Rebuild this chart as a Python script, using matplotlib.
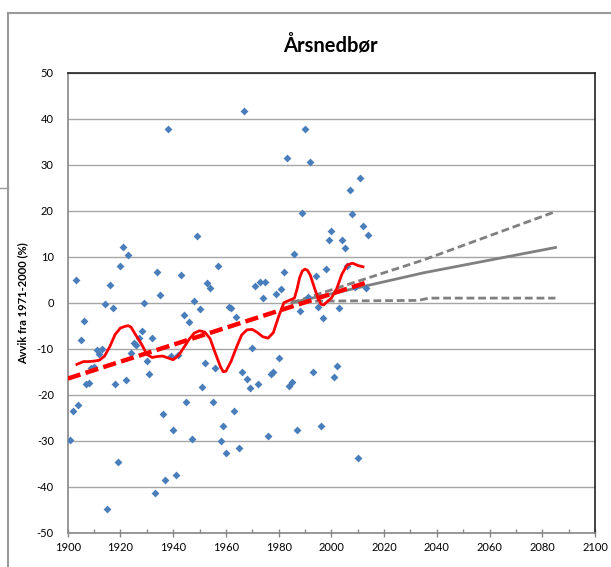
import matplotlib
matplotlib.use('Agg')
import matplotlib.pyplot as plt
from matplotlib.lines import Line2D
import numpy as np

plt.rcParams['font.family'] = ['Lato', 'DejaVu Sans']
plt.rcParams['axes.unicode_minus'] = False

# annual precipitation anomaly (%), 1901-2014
years = list(range(1901, 2015))
anomaly = [
    -29.8, -23.5, 4.9, -22.3, -8.1, -4.0, -17.7, -17.4, -14.1, -13.9,   # 1901-1910
    -10.3, -11.2, -10.1, -0.3, -44.8, 3.8, -1.2, -17.7, -34.6, 8.0,     # 1911-1920
    12.2, -16.8, 10.4, -10.9, -8.8, -9.2, -7.7, -6.1, 0.0, -12.6,       # 1921-1930
    -15.6, -7.6, -41.3, 6.6, 1.6, -24.3, -38.5, 37.8, -11.5, -27.7,     # 1931-1940
    -37.4, -11.3, 6.0, -2.6, -21.5, -4.3, -29.6, 0.4, 14.4, -1.4,       # 1941-1950
    -18.4, -13.2, 4.3, 3.3, -21.5, -14.3, 8.0, -30.1, -26.8, -32.6,     # 1951-1960
    -0.9, -1.2, -23.5, -3.1, -31.5, -15.1, 41.7, -16.5, -18.5, -9.8,    # 1961-1970
    3.6, -17.6, 4.4, 1.0, 4.4, -29.0, -15.6, -15.1, 1.9, -12.1,         # 1971-1980
    3.0, 6.6, 31.4, -18.1, -17.3, 10.5, -27.6, -1.7, 19.6, 37.8,        # 1981-1990
    1.3, 30.5, -15.1, 5.8, -0.9, -26.8, -3.4, 7.4, 13.6, 15.5,          # 1991-2000
    -16.2, -13.7, -1.2, 13.6, 12.0, 8.0, 24.4, 19.3, 3.5, -33.8,        # 2001-2010
    27.2, 16.7, 3.2, 14.7,                                              # 2011-2014
]

# smoothed curve
smooth_years = [1903.5, 1906, 1908, 1910, 1912, 1914, 1916, 1918, 1920, 1922,
                1923, 1924, 1926, 1928, 1930, 1932, 1934, 1936, 1938, 1940,
                1942, 1944, 1946, 1948, 1950, 1952, 1954, 1956, 1958, 1959,
                1960, 1962, 1964, 1966, 1968, 1970, 1972, 1974, 1976, 1978,
                1980, 1982, 1984, 1986, 1987, 1988, 1989, 1990, 1991, 1992,
                1994, 1996, 1997, 1998, 2000, 2002, 2004, 2006, 2008, 2010,
                2012]
smooth_vals = [-13.4, -12.8, -12.8, -12.7, -12.5, -11.6, -9.5, -6.9, -5.5, -5.1,
               -5.0, -5.3, -7.2, -9.0, -11.2, -11.9, -11.7, -11.6, -12.0, -12.4,
               -11.5, -9.8, -8.0, -6.6, -6.1, -6.4, -7.8, -11.0, -14.0, -15.0,
               -14.9, -12.7, -9.7, -7.0, -5.9, -5.8, -6.5, -7.4, -7.7, -6.5,
               -3.0, 0.0, 0.5, 1.0, 3.0, 5.5, 6.9, 7.3, 7.0, 6.0,
               2.5, -0.3, -0.5, 0.0, 1.0, 3.0, 6.2, 8.2, 8.6, 8.1,
               7.8]

# linear trend
trend_years = [1900, 2014]
trend_vals = [-16.5, 4.5]

# projections
proj_years = [1985, 2035, 2085]
proj_mid = [0.0, 6.5, 12.0]
proj_high = [0.0, 9.3, 19.8]
proj_low_years = [1985, 2033, 2037, 2085]
proj_low = [0.3, 0.5, 1.0, 1.0]

W, H = 611, 567
fig = plt.figure(figsize=(W / 100, H / 100), dpi=100)

# outer chart frame (partly outside the image)
frame = '#9a9a9a'
fig.add_artist(Line2D([8 / W, 8 / W], [0, 1 - 13 / H], color=frame, lw=1.5,
                      transform=fig.transFigure))
fig.add_artist(Line2D([8 / W, 1], [1 - 13 / H, 1 - 13 / H], color=frame, lw=1.5,
                      transform=fig.transFigure))
fig.add_artist(Line2D([0, 8 / W], [1 - 188 / H, 1 - 188 / H], color=frame, lw=1.0,
                      transform=fig.transFigure))

ax = fig.add_axes([67.7 / W, 34.3 / H, (595 - 67.7) / W, (532.7 - 72.7) / H])

ax.set_xlim(1900, 2100)
ax.set_ylim(-50, 50)
ax.set_xticks(np.arange(1900, 2101, 20))
ax.set_xticks(np.arange(1910, 2100, 20), minor=True)
ax.set_yticks(np.arange(-50, 51, 10))
ax.yaxis.grid(True, color='#a6a6a6', lw=1.0)
ax.set_axisbelow(True)

ax.tick_params(axis='x', which='major', direction='inout', length=6, width=1,
               color='#888888', labelsize=8, pad=4)
ax.tick_params(axis='x', which='minor', direction='in', length=3, width=1,
               color='#888888')
ax.tick_params(axis='y', length=0, labelsize=8, pad=10)

for s in ['left', 'bottom']:
    ax.spines[s].set_color('#888888')
    ax.spines[s].set_linewidth(1.2)
for s in ['top', 'right']:
    ax.spines[s].set_color('#222222')
    ax.spines[s].set_linewidth(1.2)

ax.plot(proj_years, proj_high, color='#808080', lw=2.0, ls=(0, (2.8, 1.4)), zorder=2)
ax.plot(proj_years, proj_mid, color='#808080', lw=2.0, zorder=2)
ax.plot(proj_low_years, proj_low, color='#808080', lw=2.0, ls=(0, (2.8, 1.4)), zorder=2)

ax.scatter(years, anomaly, marker='D', s=16, color='#4A7EBB', zorder=3, linewidths=0)

ax.plot(trend_years, trend_vals, color='red', lw=3.2, ls=(0, (3, 1.2)), zorder=4)
ax.plot(smooth_years, smooth_vals, color='red', lw=2.0, zorder=5)

ax.set_ylabel('Avvik fra 1971-2000 (%)', fontsize=8, fontweight='bold')
ax.yaxis.set_label_coords(-0.074, 0.5)
fig.text(330 / W, 1 - 45 / H, 'Årsnedbør', ha='center', va='center',
         fontsize=14.5, fontweight='bold')

plt.savefig('out.png', dpi=100)
